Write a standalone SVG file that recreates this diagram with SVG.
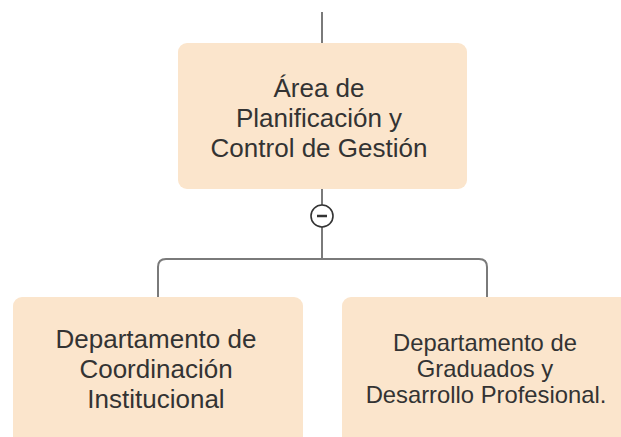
<svg xmlns="http://www.w3.org/2000/svg" width="621" height="437" viewBox="0 0 621 437">
<style>
.box{fill:#FBE5CC;}
.t{font-family:"Liberation Sans",Arial,sans-serif;fill:#333333;text-anchor:middle;}
.c{fill:none;stroke:#7a7a7a;stroke-width:2;}
</style>
<rect width="621" height="437" fill="#ffffff"/>
<g id="connectors">
<line class="c" x1="322" y1="12" x2="322" y2="43"/>
<line class="c" x1="322" y1="189" x2="322" y2="205"/>
<line class="c" x1="322" y1="227" x2="322" y2="259"/>
<path class="c" d="M158 297 V267 Q158 259 166 259 H479 Q487 259 487 267 V297"/>
</g>
<g id="toggle">
<circle cx="322" cy="216" r="11" fill="#ffffff" stroke="#333333" stroke-width="1.6"/>
<line x1="317" y1="216" x2="327" y2="216" stroke="#333333" stroke-width="2.5"/>
</g>
<g id="node-area">
<rect class="box" x="178" y="43" width="289" height="146" rx="9"/>
<text class="t" font-size="26" x="319" y="97">Área de</text>
<text class="t" font-size="26" x="319" y="127">Planificación y</text>
<text class="t" font-size="26" x="319" y="157">Control de Gestión</text>
</g>
<g id="node-coordinacion">
<rect class="box" x="13" y="297" width="290" height="160" rx="9"/>
<text class="t" font-size="26" x="156" y="348">Departamento de</text>
<text class="t" font-size="26" x="156" y="378">Coordinación</text>
<text class="t" font-size="26" x="156" y="408">Institucional</text>
</g>
<g id="node-graduados">
<rect class="box" x="342" y="297" width="300" height="160" rx="9"/>
<text class="t" font-size="23.8" x="485" y="351">Departamento de</text>
<text class="t" font-size="23.8" x="485" y="377">Graduados y</text>
<text class="t" font-size="23.8" x="486" y="403">Desarrollo Profesional.</text>
</g>
</svg>
